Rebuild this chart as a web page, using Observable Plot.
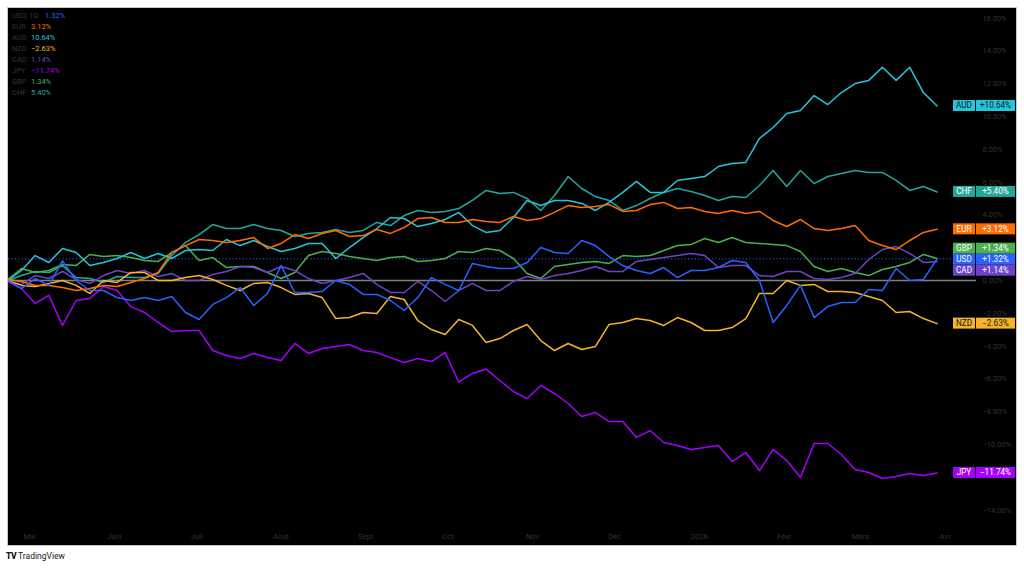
<!DOCTYPE html>
<html>
<head>
<meta charset="utf-8">
<script src="https://cdn.jsdelivr.net/npm/d3@7"></script>
<script src="https://cdn.jsdelivr.net/npm/@observablehq/plot@0.6"></script>
<style>
  html, body { margin: 0; padding: 0; background: #ffffff; }
  #frame { position: absolute; left: 7px; top: 7px; width: 1008px; height: 537px; border: 1px solid #c9c9c9; background: #000; overflow: hidden; }
  #legend { position: absolute; left: 4px; top: 2px; font: 7.5px Roboto, "Liberation Sans", sans-serif; line-height: 11px; white-space: nowrap; }
  #legend .nm { display: inline-block; width: 19px; color: #363636; }
  #footer { position: absolute; left: 6px; top: 551px; font: 8.5px Roboto, "Liberation Sans", sans-serif; color: #131722; white-space: nowrap; }
  #footer b { font-weight: 900; letter-spacing: -0.5px; margin-right: 2px; }
</style>
</head>
<body>
<div id="frame">
  <div id="chart"></div>
  <div id="legend"></div>
</div>
<div id="footer"><b>TV</b>TradingView</div>
<script>
// ---- data (percent change, sampled every 5 calendar days from 2025-04-23) ----
const names = ["USD", "EUR", "AUD", "NZD", "CAD", "JPY", "GBP", "CHF"];
const colors = ["#2962ff", "#ff6d00", "#26c6da", "#f6b32b", "#6c44c4", "#a500ff", "#4caf50", "#26a69a"];
const tagTextColors = ["#ffffff", "#ffffff", "#131722", "#131722", "#ffffff", "#ffffff", "#ffffff", "#ffffff"];

const usd = [0, -0.49, 0.12, -0.30, 1.20, 0, -0.61, -0.61, -1.04, -1.22,
  -1.04, -1.22, -0.98, -1.95, -2.38, -1.46, -1.04, -0.43, -1.52, -0.79,
  0.91, -0.73, -0.73, -0.67, 0, -0.24, -0.85, -0.85, -1.22, -1.83,
  -1.04, 0.18, -0.24, -0.61, 1.04, 0.85, 0.73, 0.73, 1.10, 2.01,
  1.71, 1.65, 2.44, 2.13, 1.46, 0.91, 0.61, 0.43, 0.79, 0.18,
  0.61, 0.61, 0.79, 1.22, 1.10, 0, -2.56, -1.52, -0.30, -2.26,
  -1.59, -1.34, -1.34, -0.55, -0.61, 0.73, 0, 0.06, 1.32];
const eur = [0.06, -0.06, -0.30, -0.30, -0.43, -0.61, -0.49, -0.30, -0.37, -0.12,
  0.12, 0.49, 1.71, 2.13, 2.50, 2.44, 2.32, 2.44, 2.62, 1.95,
  2.26, 2.80, 2.56, 2.87, 3.05, 2.68, 2.74, 3.11, 2.87, 3.23,
  3.78, 3.84, 3.54, 3.54, 3.72, 3.60, 3.54, 3.90, 3.66, 3.78,
  4.15, 4.57, 4.45, 4.51, 4.63, 4.21, 4.27, 4.63, 4.76, 4.39,
  4.45, 4.21, 4.09, 4.27, 4.09, 4.21, 3.66, 3.29, 3.72, 3.17,
  3.05, 3.17, 3.35, 2.44, 2.13, 1.89, 2.44, 2.93, 3.12];
const aud = [0, 0.61, 1.52, 1.10, 1.95, 1.71, 0.91, 1.10, 1.34, 1.71,
  1.34, 1.65, 1.34, 1.83, 1.89, 1.83, 2.50, 2.13, 2.44, 2.07,
  1.77, 1.95, 2.26, 2.26, 1.34, 2.01, 2.62, 3.17, 3.84, 3.78,
  3.29, 3.48, 3.72, 4.15, 3.35, 2.93, 3.05, 3.84, 4.88, 4.57,
  4.88, 4.88, 4.70, 4.27, 4.76, 5.37, 6.04, 5.37, 5.37, 6.10,
  6.22, 6.34, 6.95, 7.13, 7.20, 8.66, 9.33, 10.18, 10.37, 11.28,
  10.73, 11.46, 12.01, 12.20, 13.00, 12.20, 13.00, 11.46, 10.64];
const nzd = [0, -0.30, -0.37, -0.18, 0, -0.30, -0.79, 0, -0.12, 0.49,
  0.49, 0, 0, 0.18, 0.30, 0.06, -0.30, -0.61, -0.18, -0.12,
  -0.43, -0.85, -0.79, -1.04, -2.32, -2.26, -1.95, -2.01, -0.98, -1.16,
  -2.44, -2.99, -3.29, -2.38, -2.74, -3.78, -3.54, -3.05, -2.68, -3.66,
  -4.27, -3.84, -4.21, -4.02, -2.68, -2.56, -2.32, -2.44, -2.74, -2.26,
  -2.56, -3.05, -3.05, -2.87, -2.32, -0.79, -0.79, 0, -0.30, -0.24,
  -0.67, -0.67, -0.73, -0.98, -1.22, -1.95, -1.89, -2.32, -2.63];
const cad = [-0.06, -0.24, 0.30, 0.12, 0.55, 0.06, -0.18, 0.30, 0.61, 0.43,
  0.61, 0.24, 0.43, 0, 0, 0.37, 0.55, 0.85, 0.79, 0.49,
  0.85, 0.61, 0.12, -0.18, 0, 0.18, 0.43, -0.24, -0.73, -0.73,
  -0.06, -0.61, -1.28, -0.61, -0.18, -0.61, -0.61, -0.06, 0.24, 0.06,
  0.30, 0.43, 0.61, 0.85, 0.55, 0.55, 1.16, 1.28, 1.40, 1.52,
  1.65, 1.52, 0.79, 0.91, 0.91, 0.30, 0.24, 0.55, 0.55, 0.12,
  0.06, 0.18, 0.43, 1.28, 1.89, 2.07, 1.65, 1.10, 1.14];
const jpy = [-0.06, -0.49, -1.40, -0.91, -2.74, -1.22, -1.10, -0.37, -0.61, -1.59,
  -1.95, -2.56, -3.11, -3.05, -3.05, -4.27, -4.57, -4.76, -4.45, -4.70,
  -4.88, -3.84, -4.45, -4.15, -4.02, -3.90, -4.27, -4.39, -4.70, -5.00,
  -4.76, -4.94, -4.39, -6.20, -5.67, -5.40, -6.10, -6.77, -7.20, -6.40,
  -6.89, -7.50, -8.29, -8.05, -8.60, -8.60, -9.57, -9.15, -9.88, -10.06,
  -10.30, -10.18, -10.06, -11.04, -10.49, -11.59, -10.30, -10.98, -12.01, -9.94,
  -9.94, -10.61, -11.52, -11.71, -12.07, -11.95, -11.77, -11.89, -11.74];
const gbp = [0.06, 0.73, 0.49, 0.61, 0.98, 0.91, 1.59, 1.46, 1.52, 1.40,
  1.22, 1.16, 1.71, 2.13, 1.22, 1.40, 0.79, 0.85, 0.85, 0.49,
  0.12, 0.49, 1.52, 1.77, 1.65, 1.46, 1.34, 1.22, 1.40, 1.46,
  1.16, 1.22, 1.34, 1.77, 1.71, 1.95, 1.83, 1.34, 0.43, 0.12,
  0.85, 0.98, 1.10, 1.16, 1.04, 1.52, 1.46, 1.52, 1.83, 2.13,
  2.20, 2.56, 2.32, 2.62, 2.32, 2.26, 2.20, 2.13, 1.77, 0.85,
  0.55, 0.73, 0.49, 0.30, 0.67, 0.85, 1.10, 1.59, 1.34];
const chf = [0, 0.30, 0.55, 0.49, 0.91, 0.18, 0.12, -0.12, 0.24, 0.18,
  0.18, 0.43, 1.52, 2.32, 2.80, 3.41, 3.17, 3.17, 3.41, 3.17,
  3.05, 2.68, 2.87, 2.93, 3.11, 2.93, 3.05, 3.54, 3.35, 3.96,
  4.27, 4.15, 4.21, 4.39, 4.88, 5.49, 5.30, 5.37, 5.00, 4.27,
  5.18, 6.34, 5.61, 5.12, 4.88, 4.27, 4.57, 5.00, 5.37, 5.61,
  5.43, 5.18, 4.88, 5.12, 5.06, 5.79, 6.71, 5.73, 6.71, 5.91,
  6.34, 6.52, 6.71, 6.59, 6.59, 6.10, 5.49, 5.73, 5.40];

const monthTicks = ["2025-05-01", "2025-06-01", "2025-07-01", "2025-08-01", "2025-09-01", "2025-10-01",
  "2025-11-01", "2025-12-01", "2026-01-01", "2026-02-01", "2026-03-01", "2026-04-01"];
const monthLabels = ["Mai", "Juin", "Juil", "Août", "Sept", "Oct", "Nov", "Déc", "2026", "Févr", "Mars", "Avr"];
const yTicks = [-14, -12, -10, -8, -6, -4, -2, 0, 2, 4, 6, 8, 10, 12, 14, 16];

// ---- build ----
const series = [usd, eur, aud, nzd, cad, jpy, gbp, chf];
const start = new Date(Date.UTC(2025, 3, 23));
const dates = usd.map((_, i) => d3.utcDay.offset(start, 5 * i));
const drawOrder = [7, 6, 5, 4, 3, 2, 1, 0];
const data = drawOrder.flatMap(j => series[j].map((v, i) => ({name: names[j], date: dates[i], value: v})));
const tickDates = monthTicks.map(s => new Date(s + "T00:00:00Z"));
const labelMap = new Map(tickDates.map((d, i) => [+d, monthLabels[i]]));
const fmt = v => (v < 0 ? "\u2212" : "") + Math.abs(v).toFixed(2) + "%";
const fmtSigned = v => (v < 0 ? "\u2212" : "+") + Math.abs(v).toFixed(2) + "%";
const axisColor = "#333333";
const lastValues = series.map(s => s[s.length - 1]);

const W = 1008, H = 537, MT = 0, MB = 19, ML = 0, MR = 40;
const yDomain = [-15.0, 16.585];
const tagH = 11;

// tag layout: start at each last value, then dodge groups that overlap
function layoutTags(yFn) {
  const items = names.map((n, j) => ({j, py: yFn(lastValues[j])})).sort((a, b) => a.py - b.py);
  let groups = items.map(it => ({items: [it], center: it.py}));
  let changed = true;
  while (changed) {
    changed = false;
    for (let i = 0; i < groups.length - 1; i++) {
      const g1 = groups[i], g2 = groups[i + 1];
      if (g1.center + g1.items.length * tagH / 2 > g2.center - g2.items.length * tagH / 2) {
        const its = g1.items.concat(g2.items);
        groups.splice(i, 2, {items: its, center: d3.mean(its, d => d.py)});
        changed = true;
        break;
      }
    }
  }
  const out = [];
  groups.forEach(g => g.items.forEach((it, k) => out.push({j: it.j, cy: g.center - (g.items.length - 1) * tagH / 2 + k * tagH})));
  return out;
}
// the price-scale labels hidden behind a tag are not drawn
const yPre = d3.scaleLinear().domain(yDomain).range([H - MB, MT]);
const preTags = layoutTags(yPre);
const shownTicks = yTicks.filter(t => preTags.every(tg => Math.abs(yPre(t) - tg.cy) >= tagH / 2 + 4));

const plot = Plot.plot({
  width: W, height: H,
  marginTop: MT, marginBottom: MB, marginLeft: ML, marginRight: MR,
  style: {background: "transparent", fontFamily: "Roboto, 'Liberation Sans', sans-serif", fontSize: "7.5px", overflow: "visible"},
  x: {type: "utc", domain: [new Date(Date.UTC(2025, 3, 23, 6)), new Date(Date.UTC(2026, 3, 12, 10))], label: null},
  y: {domain: yDomain, label: null},
  color: {domain: names, range: colors},
  marks: [
    Plot.ruleY([0], {stroke: "#808080", strokeWidth: 1.6}),
    Plot.ruleY([lastValues[0]], {stroke: "#2962ff", strokeWidth: 1, strokeDasharray: "1.2,2.2"}),
    Plot.line(data, {x: "date", y: "value", z: "name", stroke: "name", strokeWidth: 1.5, strokeLinejoin: "round"}),
    Plot.axisX({ticks: tickDates, tickFormat: d => labelMap.get(+d), tickSize: 0, tickPadding: 7, fill: axisColor, label: null}),
    Plot.axisY({ticks: shownTicks, anchor: "right", tickFormat: fmt, tickSize: 0, tickPadding: 6, fill: axisColor, label: null})
  ]
});
document.getElementById("chart").appendChild(plot);

// ---- last-value tags, positioned with Plot's own y scale ----
const ys = plot.scale("y");
const tags = layoutTags(v => ys.apply(v));
const gTags = d3.select(plot).append("g").attr("font-family", "Roboto, 'Liberation Sans', sans-serif").attr("font-size", "8.2px");
tags.forEach(({j, cy}) => {
  const t = gTags.append("g");
  t.append("rect").attr("x", 945).attr("y", cy - tagH / 2).attr("width", 22).attr("height", tagH).attr("fill", colors[j]);
  t.append("rect").attr("x", 968).attr("y", cy - tagH / 2).attr("width", 39).attr("height", tagH).attr("fill", colors[j]);
  t.append("text").attr("x", 956).attr("y", cy).attr("dy", "0.36em").attr("text-anchor", "middle").attr("fill", tagTextColors[j]).text(names[j]);
  t.append("text").attr("x", 987.5).attr("y", cy).attr("dy", "0.36em").attr("text-anchor", "middle").attr("fill", tagTextColors[j]).text(fmtSigned(lastValues[j]));
});

// ---- top-left legend ----
const legend = document.getElementById("legend");
names.forEach((n, j) => {
  const row = document.createElement("div");
  const nm = document.createElement("span");
  nm.className = "nm";
  nm.textContent = j === 0 ? "USD, 1D" : n;
  if (j === 0) nm.style.width = "33px";
  const val = document.createElement("span");
  val.style.color = colors[j];
  val.textContent = fmt(lastValues[j]);
  row.appendChild(nm);
  row.appendChild(val);
  legend.appendChild(row);
});
</script>
</body>
</html>
